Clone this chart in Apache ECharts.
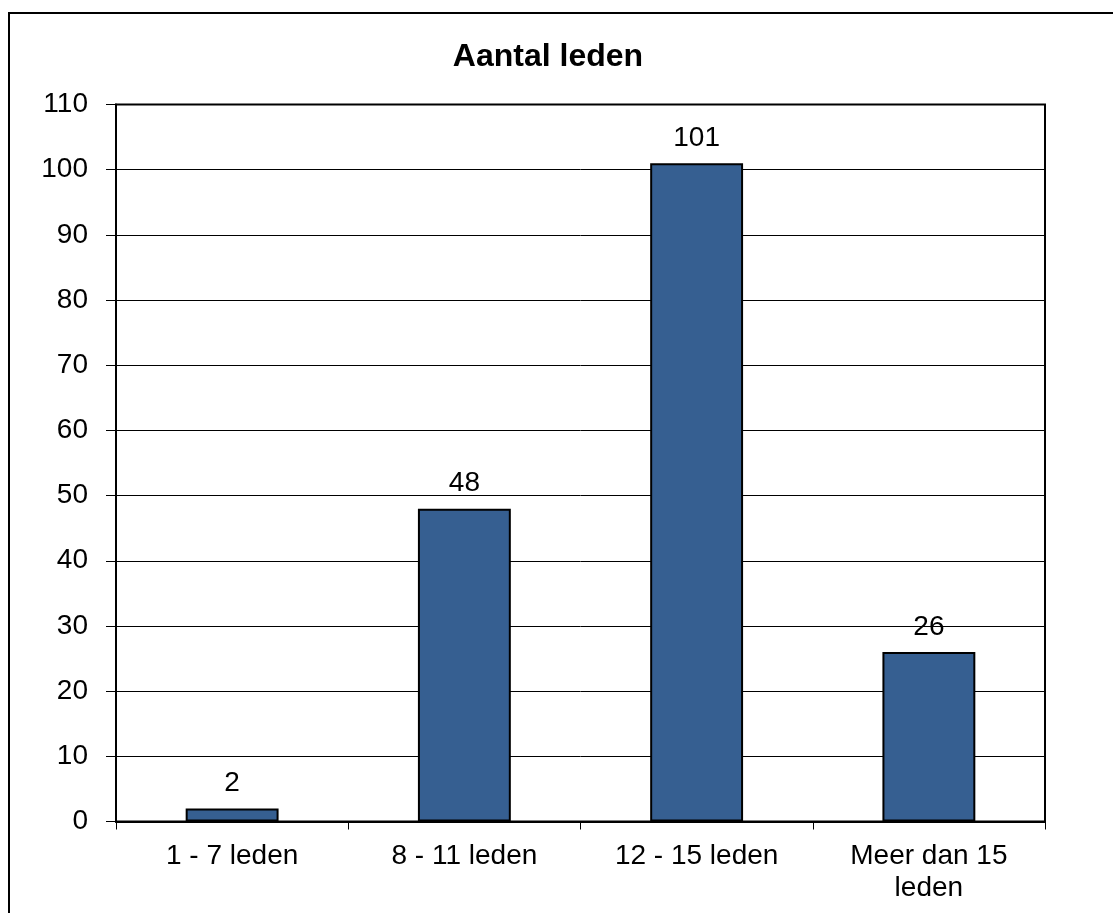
<!DOCTYPE html>
<html>
<head>
<meta charset="utf-8">
<script src="https://cdn.jsdelivr.net/npm/echarts@6/dist/echarts.min.js"></script>
<style>
  html, body { margin: 0; padding: 0; background: #ffffff; }
  #chart { width: 1113px; height: 913px; }
</style>
</head>
<body>
<div id="chart"></div>
<script>
// Number of members per group
const categories = ['1 - 7 leden', '8 - 11 leden', '12 - 15 leden', 'Meer dan 15\nleden'];
const values = [2, 48, 101, 26];
const yTicks = { min: 0, max: 110, interval: 10 };

const FONT = '"Liberation Sans", Arial, Helvetica, sans-serif';

const chart = echarts.init(document.getElementById('chart'), null, { renderer: 'canvas' });

chart.setOption({
  animation: false,
  backgroundColor: '#ffffff',
  title: {
    text: 'Aantal leden',
    left: 543,
    textAlign: 'center',
    top: 36,
    textStyle: { fontFamily: FONT, fontSize: 32, fontWeight: 'bold', color: '#000000' }
  },
  grid: {
    left: 116, right: 68, top: 104.5, bottom: 91.5,
    show: true, borderColor: '#000000', borderWidth: 2, backgroundColor: 'transparent'
  },
  xAxis: {
    type: 'category',
    data: categories,
    axisLine: { show: true, lineStyle: { color: '#000000', width: 2 } },
    axisTick: { show: true, length: 8, lineStyle: { color: '#000000', width: 1 } },
    axisLabel: {
      fontFamily: FONT, fontSize: 28, color: '#000000', margin: 19, lineHeight: 32, interval: 0
    },
    splitLine: { show: false }
  },
  yAxis: {
    type: 'value',
    min: yTicks.min, max: yTicks.max, interval: yTicks.interval,
    axisLine: { show: true, lineStyle: { color: '#000000', width: 2 } },
    axisTick: { show: true, length: 10, lineStyle: { color: '#000000', width: 1 } },
    axisLabel: { fontFamily: FONT, fontSize: 28, color: '#000000', margin: 28, padding: [3, 0, 0, 0] },
    splitLine: { show: true, lineStyle: { color: '#000000', width: 1 } }
  },
  series: [{
    type: 'bar',
    data: values,
    barWidth: '40%',
    itemStyle: { color: '#365F91', borderColor: '#000000', borderWidth: 2 },
    label: {
      show: true, position: 'top', distance: 11,
      fontFamily: FONT, fontSize: 28, color: '#000000'
    }
  }],
  graphic: [{
    type: 'rect',
    shape: { x: 9, y: 13, width: 1200, height: 1000 },
    style: { fill: 'none', stroke: '#000000', lineWidth: 2 },
    silent: true,
    z: 100
  }]
});
</script>
</body>
</html>
